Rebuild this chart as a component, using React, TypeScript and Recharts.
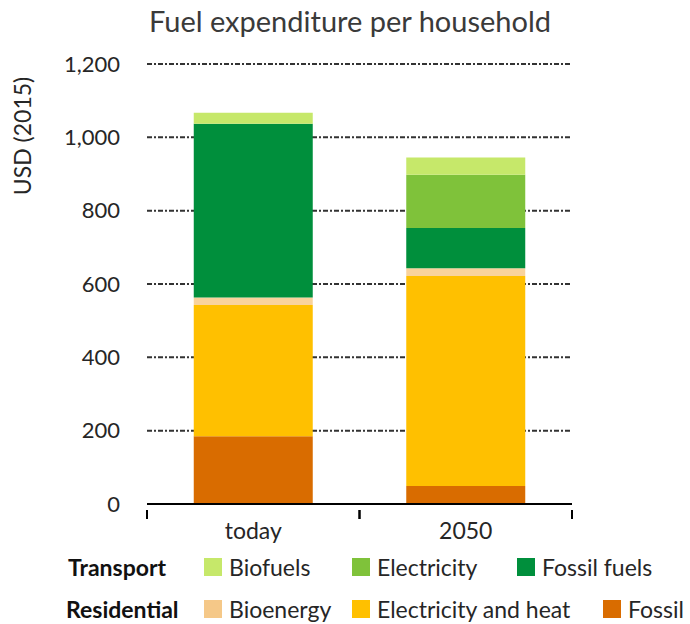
import { BarChart, Bar, XAxis, YAxis, CartesianGrid } from "recharts";

const periods = ["today", "2050"];
const resFossil = [185, 49];
const resElecHeat = [358, 573];
const resBioenergy = [20, 21];
const trFossilFuels = [474, 110];
const trElectricity = [0, 145];
const trBiofuels = [30, 47];
const yTicks = [0, 200, 400, 600, 800, 1000, 1200];

const data = periods.map((p, i) => ({
  period: p,
  resFossil: resFossil[i],
  resElecHeat: resElecHeat[i],
  resBioenergy: resBioenergy[i],
  trFossilFuels: trFossilFuels[i],
  trElectricity: trElectricity[i],
  trBiofuels: trBiofuels[i],
}));

const FONT = "Lato, 'Open Sans', sans-serif";
const TEXT = "#262626";
const PLOT_LEFT = 147;
const PLOT_RIGHT = 118;
const BAND = (690 - PLOT_LEFT - PLOT_RIGHT) / periods.length;

function XTick(props: any) {
  const { x, y, payload } = props;
  return (
    <g>
      <line x1={x - BAND / 2} x2={x - BAND / 2} y1={y - 2} y2={y + 7} stroke="#000" strokeWidth={2} />
      <line x1={x + BAND / 2} x2={x + BAND / 2} y1={y - 2} y2={y + 7} stroke="#000" strokeWidth={2} />
      <text x={x} y={y + 27} textAnchor="middle" fill={TEXT} fontSize={23} fontFamily={FONT}>
        {payload.value}
      </text>
    </g>
  );
}

const legendRows = [
  {
    group: "Transport",
    left: 68,
    items: [
      { label: "Biofuels", color: "#c6e86a", x: 204 },
      { label: "Electricity", color: "#7fc23a", x: 352 },
      { label: "Fossil fuels", color: "#008f3c", x: 517 },
    ],
  },
  {
    group: "Residential",
    left: 66,
    items: [
      { label: "Bioenergy", color: "#f5c888", x: 204 },
      { label: "Electricity and heat", color: "#ffc000", x: 352 },
      { label: "Fossil", color: "#d96c00", x: 603 },
    ],
  },
];

export default function App() {
  return (
    <div style={{ position: "absolute", left: 0, top: 0, width: 690, height: 624, background: "#fff", fontFamily: FONT, overflow: "hidden" }}>
      <div style={{ position: "absolute", left: 0, width: 700, top: 3, textAlign: "center", fontSize: 29, color: "#3a3a3a" }}>
        Fuel expenditure per household
      </div>
      <div
        style={{
          position: "absolute",
          left: 22,
          top: 136,
          transform: "translate(-50%, -50%) rotate(-90deg)",
          fontSize: 23,
          color: TEXT,
          whiteSpace: "nowrap",
        }}
      >
        USD (2015)
      </div>
      <div style={{ position: "absolute", left: 0, top: 0 }}>
        <BarChart
          width={690}
          height={545}
          data={data}
          margin={{ top: 64, right: PLOT_RIGHT, left: 0, bottom: 11 }}
          barCategoryGap="22%"
        >
          <CartesianGrid
            horizontal
            vertical={false}
            stroke="#333"
            strokeWidth={2}
            strokeDasharray="5 2 2 2"
            horizontalValues={[200, 400, 600, 800, 1000, 1200]}
          />
          <XAxis
            dataKey="period"
            axisLine={{ stroke: "#000", strokeWidth: 2 }}
            tickLine={false}
            tick={<XTick />}
            height={30}
          />
          <YAxis
            width={PLOT_LEFT}
            domain={[0, 1200]}
            ticks={yTicks}
            axisLine={false}
            tickLine={false}
            tickSize={0}
            tickMargin={27}
            tickFormatter={(v: number) => v.toLocaleString("en-US")}
            tick={{ fill: TEXT, fontSize: 22, fontFamily: FONT }}
          />
          <Bar dataKey="resFossil" stackId="a" fill="#d96c00" isAnimationActive={false} />
          <Bar dataKey="resElecHeat" stackId="a" fill="#ffc000" isAnimationActive={false} />
          <Bar dataKey="resBioenergy" stackId="a" fill="#f9d39c" isAnimationActive={false} />
          <Bar dataKey="trFossilFuels" stackId="a" fill="#008f3c" isAnimationActive={false} />
          <Bar dataKey="trElectricity" stackId="a" fill="#7fc23a" isAnimationActive={false} />
          <Bar dataKey="trBiofuels" stackId="a" fill="#c6e86a" isAnimationActive={false} />
        </BarChart>
      </div>
      {legendRows.map((row, r) => (
        <div key={row.group} style={{ position: "absolute", left: 0, top: 553 + r * 42, width: 690, height: 28 }}>
          <div style={{ position: "absolute", left: row.left, top: 0, height: 28, lineHeight: "28px", fontSize: 23, fontWeight: 700, color: "#111" }}>
            {row.group}
          </div>
          {row.items.map((it) => (
            <div key={it.label} style={{ position: "absolute", left: it.x, top: 0, display: "flex", alignItems: "center", height: 28 }}>
              <span style={{ width: 18, height: 18, background: it.color, display: "inline-block", marginRight: 7 }} />
              <span style={{ fontSize: 23, lineHeight: "28px", color: TEXT, whiteSpace: "nowrap" }}>{it.label}</span>
            </div>
          ))}
        </div>
      ))}
    </div>
  );
}
